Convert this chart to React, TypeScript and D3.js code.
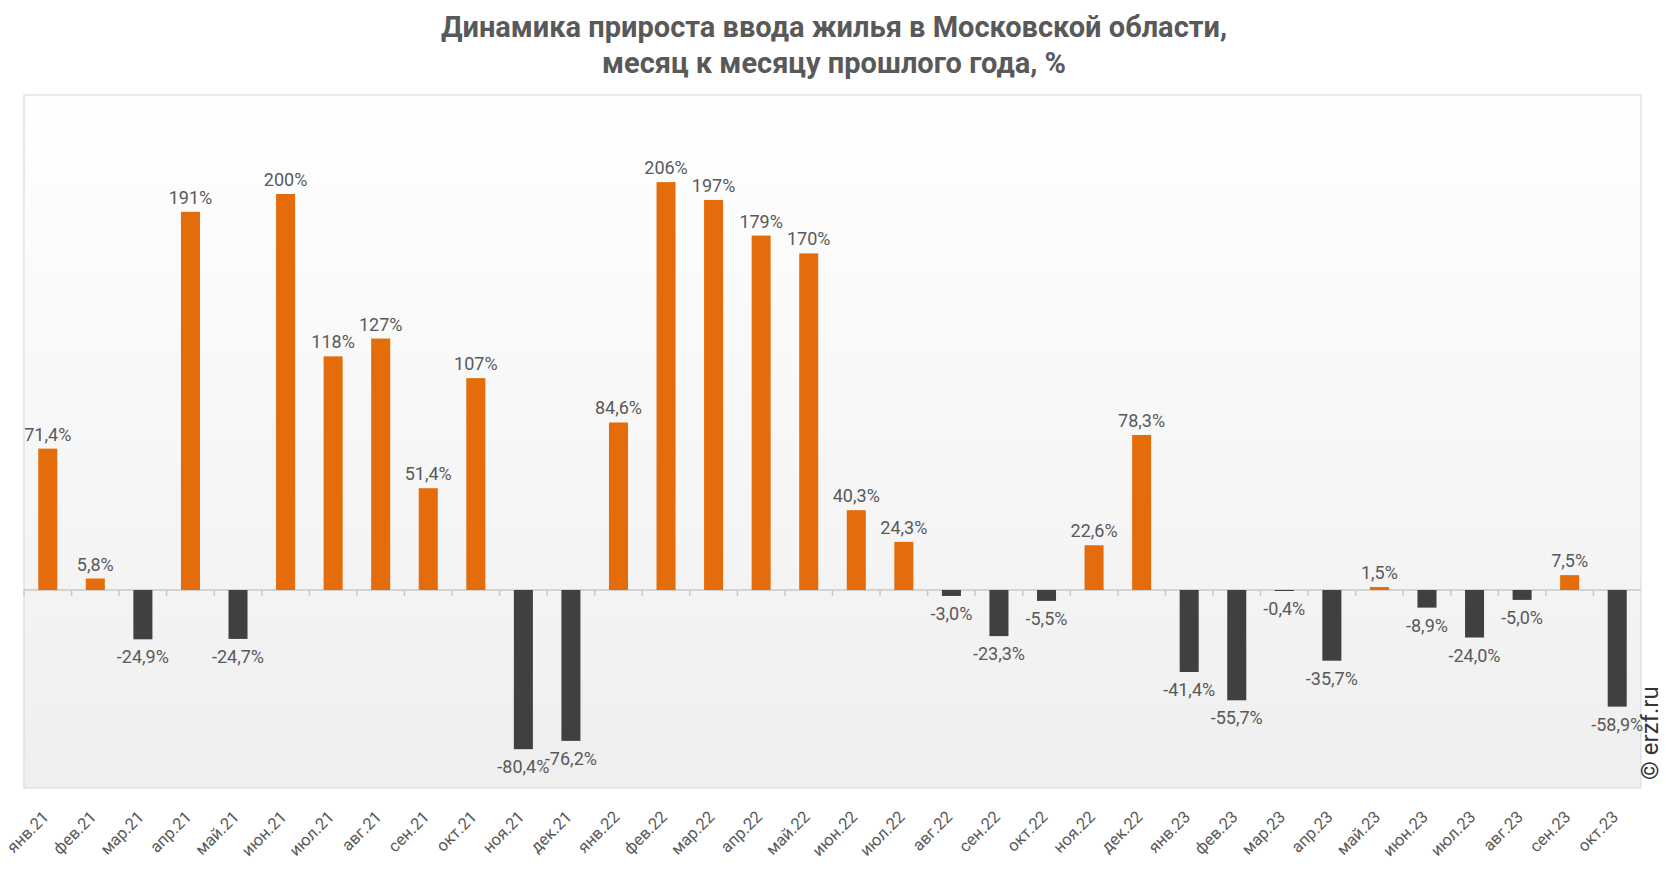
import React from "react";
import * as d3 from "d3";

const categories = [
  "янв.21","фев.21","мар.21","апр.21","май.21","июн.21","июл.21","авг.21","сен.21","окт.21","ноя.21","дек.21",
  "янв.22","фев.22","мар.22","апр.22","май.22","июн.22","июл.22","авг.22","сен.22","окт.22","ноя.22","дек.22",
  "янв.23","фев.23","мар.23","апр.23","май.23","июн.23","июл.23","авг.23","сен.23","окт.23",
];
const values = [
  71.4, 5.8, -24.9, 191, -24.7, 200, 118, 127, 51.4, 107, -80.4, -76.2,
  84.6, 206, 197, 179, 170, 40.3, 24.3, -3.0, -23.3, -5.5, 22.6, 78.3,
  -41.4, -55.7, -0.4, -35.7, 1.5, -8.9, -24.0, -5.0, 7.5, -58.9,
];
const titleLines = ["Динамика прироста ввода жилья в Московской области,", "месяц к месяцу прошлого года, %"];
const yDomain = [-100, 250];

const W = 1666, H = 872;
const M = { left: 24, right: 1641, top: 95, bottom: 788 };

function fmt(v: number) {
  const s = Math.abs(v) >= 100 ? d3.format(".0f")(v) : d3.format(".1f")(v);
  return s.replace(".", ",").replace("−", "-") + "%";
}

export default function App() {
  const x = d3.scaleBand().domain(categories).range([M.left, M.right]).paddingInner(0.6).paddingOuter(0.3);
  const xb = d3.scaleBand().domain(categories).range([M.left, M.right]);
  const y = d3.scaleLinear().domain(yDomain).range([M.bottom, M.top]);
  const y0 = y(0);
  const bw = x.bandwidth();
  return (
    <svg width={W} height={H} style={{ position: "absolute", left: 0, top: 0 }} fontFamily="Roboto, sans-serif">
      <defs>
        <linearGradient id="bg" x1="0" y1="0" x2="0" y2="1">
          <stop offset="0" stopColor="#ffffff" />
          <stop offset="1" stopColor="#efefef" />
        </linearGradient>
      </defs>
      <rect x={0} y={0} width={W} height={H} fill="#fff" />
      {titleLines.map((t, i) => (
        <text key={i} x={834} y={37 + i * 36} textAnchor="middle" fontSize={29} fontWeight="bold" fill="#595959">
          {t}
        </text>
      ))}
      <rect x={M.left} y={M.top} width={M.right - M.left} height={M.bottom - M.top} fill="url(#bg)" stroke="#dcdcdc" strokeWidth={1.2} />
      <line x1={M.left} x2={M.right} y1={y0} y2={y0} stroke="#c8c8c8" strokeWidth={1.5} />
      {categories.map((c, i) => (
        <line key={"t" + i} x1={xb(c)!} x2={xb(c)!} y1={y0} y2={y0 + 6} stroke="#c8c8c8" strokeWidth={1.5} />
      ))}
      {categories.map((c, i) => {
        const v = values[i];
        const top = Math.min(y(v), y0);
        const h = Math.abs(y(v) - y0);
        return (
          <rect key={"b" + i} x={x(c)!} y={top} width={bw} height={Math.max(h, 1)} fill={v >= 0 ? "#E46C0A" : "#404040"} />
        );
      })}
      {categories.map((c, i) => {
        const v = values[i];
        const cx = x(c)! + bw / 2;
        const ty = v >= 0 ? y(v) - 8 : y(v) + 24;
        return (
          <text key={"l" + i} x={cx} y={ty} textAnchor="middle" fontSize={18} fill="#595959">
            {fmt(v)}
          </text>
        );
      })}
      {categories.map((c, i) => {
        const cx = xb(c)! + xb.bandwidth() / 2;
        return (
          <text key={"x" + i} transform={`translate(${cx + 2},${818}) rotate(-45)`} textAnchor="end" fontSize={16.5} fill="#595959">
            {c}
          </text>
        );
      })}
      <text transform={`translate(${1658},${780}) rotate(-90)`} fontSize={24} fill="#333">© erzf.ru</text>
    </svg>
  );
}
